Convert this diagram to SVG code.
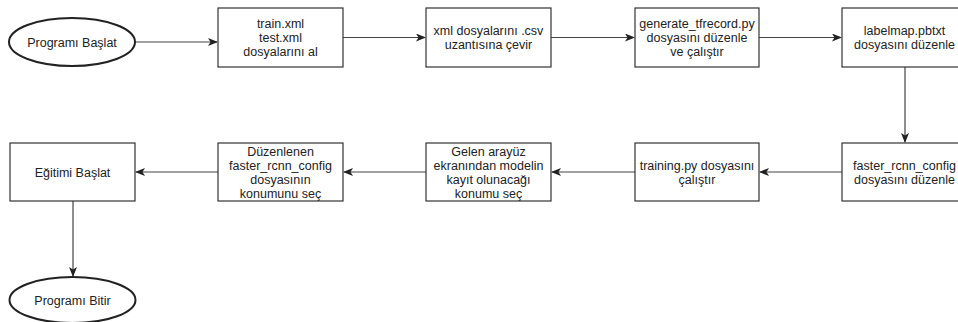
<svg xmlns="http://www.w3.org/2000/svg" width="958" height="322" viewBox="0 0 958 322">
  <style>
    .box { fill: #ffffff; stroke: #333333; stroke-width: 1.2; }
    .term { fill: #ffffff; stroke: #222222; stroke-width: 2; }
    .edge { fill: none; stroke: #444444; stroke-width: 1.2; marker-end: url(#arrow); }
    text { font-family: "Liberation Sans", Arial, sans-serif; font-size: 12.5px; fill: #222222; text-anchor: middle; }
  </style>
  <defs>
    <marker id="arrow" viewBox="0 0 10 8" refX="9" refY="4" markerWidth="10" markerHeight="8" markerUnits="userSpaceOnUse" orient="auto">
      <path d="M0,0 L10,4 L0,8 L2.5,4 z" fill="#222222"/>
    </marker>
  </defs>
  <rect width="958" height="322" fill="#ffffff"/>

  <g id="connectors">
    <line class="edge" x1="135" y1="42" x2="217" y2="42"/>
    <line class="edge" x1="343" y1="37.5" x2="425" y2="37.5"/>
    <line class="edge" x1="551" y1="37.5" x2="634" y2="37.5"/>
    <line class="edge" x1="759" y1="37.5" x2="841" y2="37.5"/>
    <line class="edge" x1="905" y1="67" x2="905" y2="142"/>
    <line class="edge" x1="842" y1="172" x2="760" y2="172"/>
    <line class="edge" x1="635" y1="172" x2="552" y2="172"/>
    <line class="edge" x1="426" y1="172" x2="344" y2="172"/>
    <line class="edge" x1="218" y1="172" x2="136" y2="172"/>
    <line class="edge" x1="73" y1="201" x2="73" y2="276"/>
  </g>

  <g id="start">
    <ellipse class="term" cx="72" cy="42" rx="63" ry="24"/>
    <text x="72" y="46.5">Programı Başlat</text>
  </g>

  <g id="get-xml">
    <rect class="box" x="218" y="8" width="125" height="59"/>
    <text x="280.5" y="28">train.xml</text>
    <text x="280.5" y="42">test.xml</text>
    <text x="280.5" y="56">dosyalarını al</text>
  </g>

  <g id="xml-to-csv">
    <rect class="box" x="426" y="8" width="125" height="59"/>
    <text x="488.5" y="35">xml dosyalarını .csv</text>
    <text x="488.5" y="49">uzantısına çevir</text>
  </g>

  <g id="generate-tfrecord">
    <rect class="box" x="635" y="8" width="124" height="59"/>
    <text x="697" y="28">generate_tfrecord.py</text>
    <text x="697" y="42">dosyasını düzenle</text>
    <text x="697" y="56">ve çalıştır</text>
  </g>

  <g id="labelmap">
    <rect class="box" x="842" y="8" width="125" height="59"/>
    <text x="904.5" y="35">labelmap.pbtxt</text>
    <text x="904.5" y="49">dosyasını düzenle</text>
  </g>

  <g id="edit-config">
    <rect class="box" x="842" y="143" width="125" height="58"/>
    <text x="904.5" y="169.5">faster_rcnn_config</text>
    <text x="904.5" y="183.5">dosyasını düzenle</text>
  </g>

  <g id="run-training">
    <rect class="box" x="635" y="143" width="124" height="58"/>
    <text x="697" y="169.5">training.py dosyasını</text>
    <text x="697" y="183.5">çalıştır</text>
  </g>

  <g id="choose-model-location">
    <rect class="box" x="426" y="143" width="125" height="58"/>
    <text x="488.5" y="155.5">Gelen arayüz</text>
    <text x="488.5" y="169.5">ekranından modelin</text>
    <text x="488.5" y="183.5">kayıt olunacağı</text>
    <text x="488.5" y="197.5">konumu seç</text>
  </g>

  <g id="choose-config-location">
    <rect class="box" x="218" y="143" width="125" height="58"/>
    <text x="280.5" y="155.5">Düzenlenen</text>
    <text x="280.5" y="169.5">faster_rcnn_config</text>
    <text x="280.5" y="183.5">dosyasının</text>
    <text x="280.5" y="197.5">konumunu seç</text>
  </g>

  <g id="start-training">
    <rect class="box" x="10" y="143" width="125" height="58"/>
    <text x="72.5" y="176.5">Eğitimi Başlat</text>
  </g>

  <g id="end">
    <ellipse class="term" cx="72.5" cy="300" rx="63" ry="23"/>
    <text x="72.5" y="304.5">Programı Bitir</text>
  </g>
</svg>
